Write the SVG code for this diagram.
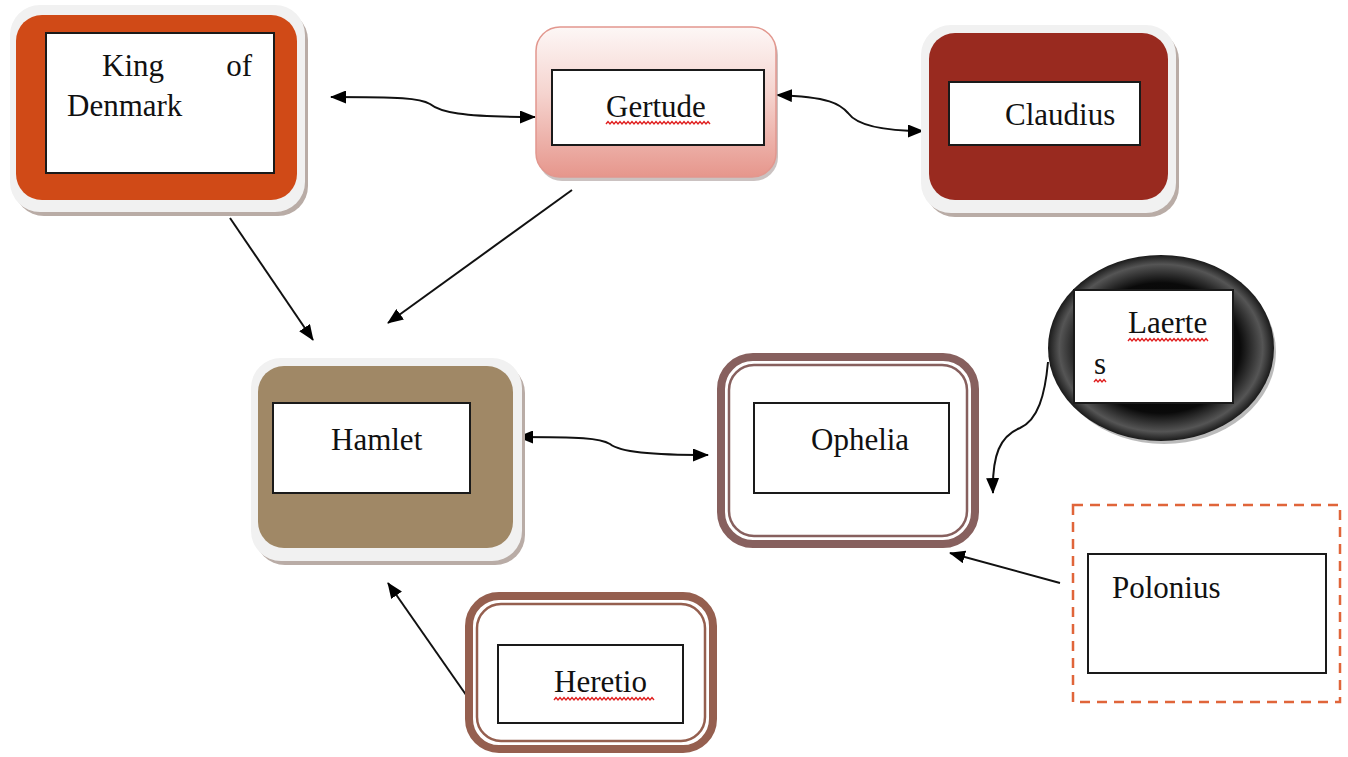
<svg xmlns="http://www.w3.org/2000/svg" width="1348" height="757" viewBox="0 0 1348 757">
<style>
  text { font-family: "Liberation Serif", "Times New Roman", serif; font-size: 31px; fill: #111; }
  .inner { fill: #fff; stroke: #1a1a1a; stroke-width: 2; }
  .frame { fill: #f1f1f1; }
  .shadow { fill: #b9aca6; }
  .conn { fill: none; stroke: #111; stroke-width: 2; }
  .wavy { fill: none; stroke: #e02020; stroke-width: 1.4; }
</style>
<defs>
  <marker id="ah" viewBox="0 0 16 13" refX="15" refY="6.5" markerWidth="16" markerHeight="13" markerUnits="userSpaceOnUse" orient="auto-start-reverse">
    <path d="M0,0 L16,6.5 L0,13 Z" fill="#000"/>
  </marker>
  <linearGradient id="gertGrad" x1="0" y1="0" x2="0" y2="1">
    <stop offset="0" stop-color="#fdf7f6"/>
    <stop offset="0.45" stop-color="#f5d3ce"/>
    <stop offset="1" stop-color="#e6968c"/>
  </linearGradient>
  <radialGradient id="laerGrad" cx="0.5" cy="0.5" r="0.5">
    <stop offset="0" stop-color="#000"/>
    <stop offset="0.7" stop-color="#0a0a0a"/>
    <stop offset="0.9" stop-color="#555"/>
    <stop offset="1" stop-color="#1a1a1a"/>
  </radialGradient>
</defs>

<g id="connectors">
  <path class="conn" d="M331,97 C400,97 420,98 430,104 C440,112 460,117 535,117" marker-start="url(#ah)" marker-end="url(#ah)"/>
  <path class="conn" d="M777,95 C830,97 840,104 848,113 C856,124 880,131 923,131" marker-start="url(#ah)" marker-end="url(#ah)"/>
  <path class="conn" d="M230,218 L313,340" marker-end="url(#ah)"/>
  <path class="conn" d="M572,190 L388,323" marker-end="url(#ah)"/>
  <path class="conn" d="M518,437 C580,437 600,438 610,444 C620,452 650,455 708,455" marker-start="url(#ah)" marker-end="url(#ah)"/>
  <path class="conn" d="M1048,362 C1045,395 1038,420 1020,428 C1000,436 992,455 993,493" marker-end="url(#ah)"/>
  <path class="conn" d="M1060,583 L950,553" marker-end="url(#ah)"/>
  <path class="conn" d="M471,702 L388,583" marker-end="url(#ah)"/>
</g>

<g id="king">
  <rect class="shadow" x="14" y="10" width="294" height="206" rx="30"/>
  <rect class="frame" x="10" y="5" width="295" height="207" rx="30"/>
  <rect x="16" y="15" width="281" height="185" rx="26" fill="#d04a17"/>
  <rect class="inner" x="46" y="33" width="228" height="140"/>
  <text x="102" y="76">King</text>
  <text x="252" y="76" text-anchor="end">of</text>
  <text x="67" y="116">Denmark</text>
</g>

<g id="gertude">
  <rect x="538" y="31" width="240" height="150" rx="24" fill="#a89a98" opacity="0.6"/>
  <rect x="536" y="27" width="240" height="150" rx="24" fill="url(#gertGrad)" stroke="#e2978e" stroke-width="1.5"/>
  <rect class="inner" x="552" y="70" width="212" height="75"/>
  <text x="606" y="117">Gertude</text>
  <path class="wavy" d="M606,124 l2,-2.5 l2,2.5 l2,-2.5 l2,2.5 l2,-2.5 l2,2.5 l2,-2.5 l2,2.5 l2,-2.5 l2,2.5 l2,-2.5 l2,2.5 l2,-2.5 l2,2.5 l2,-2.5 l2,2.5 l2,-2.5 l2,2.5 l2,-2.5 l2,2.5 l2,-2.5 l2,2.5 l2,-2.5 l2,2.5 l2,-2.5 l2,2.5 l2,-2.5 l2,2.5 l2,-2.5 l2,2.5 l2,-2.5 l2,2.5 l2,-2.5 l2,2.5 l2,-2.5 l2,2.5 l2,-2.5 l2,2.5 l2,-2.5 l2,2.5 l2,-2.5 l2,2.5 l2,-2.5 l2,2.5 l2,-2.5 l2,2.5 l2,-2.5 l2,2.5 l2,-2.5 l2,2.5 l2,-2.5 l2,2.5"/>
</g>

<g id="claudius">
  <rect class="shadow" x="925" y="30" width="254" height="187" rx="30"/>
  <rect class="frame" x="921" y="25" width="255" height="188" rx="30"/>
  <rect x="929" y="33" width="239" height="167" rx="26" fill="#992a1f"/>
  <rect class="inner" x="949" y="82" width="191" height="63"/>
  <text x="1005" y="125">Claudius</text>
</g>

<g id="hamlet">
  <rect class="shadow" x="255" y="363" width="270" height="202" rx="30"/>
  <rect class="frame" x="251" y="358" width="271" height="203" rx="30"/>
  <rect x="258" y="366" width="255" height="182" rx="26" fill="#a08866"/>
  <rect class="inner" x="273" y="403" width="197" height="90"/>
  <text x="331" y="450">Hamlet</text>
</g>

<g id="ophelia">
  <rect x="721" y="357" width="254" height="187" rx="32" fill="#fff" stroke="#87605e" stroke-width="8"/>
  <rect x="729" y="365" width="238" height="171" rx="25" fill="none" stroke="#87605e" stroke-width="2.5"/>
  <rect class="inner" x="754" y="403" width="195" height="90"/>
  <text x="811" y="450">Ophelia</text>
</g>

<g id="laertes">
  <ellipse cx="1164" cy="352" rx="112" ry="92" fill="#777" opacity="0.5"/>
  <ellipse cx="1161" cy="348" rx="113" ry="93" fill="url(#laerGrad)"/>
  <rect class="inner" x="1074" y="290" width="159" height="113"/>
  <text x="1128" y="333">Laerte</text>
  <path class="wavy" d="M1128,341 l2,-2.5 l2,2.5 l2,-2.5 l2,2.5 l2,-2.5 l2,2.5 l2,-2.5 l2,2.5 l2,-2.5 l2,2.5 l2,-2.5 l2,2.5 l2,-2.5 l2,2.5 l2,-2.5 l2,2.5 l2,-2.5 l2,2.5 l2,-2.5 l2,2.5 l2,-2.5 l2,2.5 l2,-2.5 l2,2.5 l2,-2.5 l2,2.5 l2,-2.5 l2,2.5 l2,-2.5 l2,2.5 l2,-2.5 l2,2.5 l2,-2.5 l2,2.5 l2,-2.5 l2,2.5 l2,-2.5 l2,2.5 l2,-2.5 l2,2.5"/>
  <text x="1094" y="374">s</text>
  <path class="wavy" d="M1094,382 l2,-2.5 l2,2.5 l2,-2.5 l2,2.5 l2,-2.5 l2,2.5"/>
</g>

<g id="polonius">
  <rect x="1073" y="505" width="267" height="197" fill="#fff" stroke="#e0653a" stroke-width="2.5" stroke-dasharray="10,7"/>
  <rect class="inner" x="1088" y="554" width="238" height="119"/>
  <text x="1112" y="598">Polonius</text>
</g>

<g id="heretio">
  <rect x="469" y="596" width="244" height="153" rx="30" fill="#fff" stroke="#955f4f" stroke-width="8"/>
  <rect x="477" y="604" width="228" height="137" rx="24" fill="none" stroke="#955f4f" stroke-width="2.5"/>
  <rect class="inner" x="498" y="645" width="185" height="78"/>
  <text x="554" y="692">Heretio</text>
  <path class="wavy" d="M554,700 l2,-2.5 l2,2.5 l2,-2.5 l2,2.5 l2,-2.5 l2,2.5 l2,-2.5 l2,2.5 l2,-2.5 l2,2.5 l2,-2.5 l2,2.5 l2,-2.5 l2,2.5 l2,-2.5 l2,2.5 l2,-2.5 l2,2.5 l2,-2.5 l2,2.5 l2,-2.5 l2,2.5 l2,-2.5 l2,2.5 l2,-2.5 l2,2.5 l2,-2.5 l2,2.5 l2,-2.5 l2,2.5 l2,-2.5 l2,2.5 l2,-2.5 l2,2.5 l2,-2.5 l2,2.5 l2,-2.5 l2,2.5 l2,-2.5 l2,2.5 l2,-2.5 l2,2.5 l2,-2.5 l2,2.5 l2,-2.5 l2,2.5 l2,-2.5 l2,2.5 l2,-2.5 l2,2.5"/>
</g>
</svg>
